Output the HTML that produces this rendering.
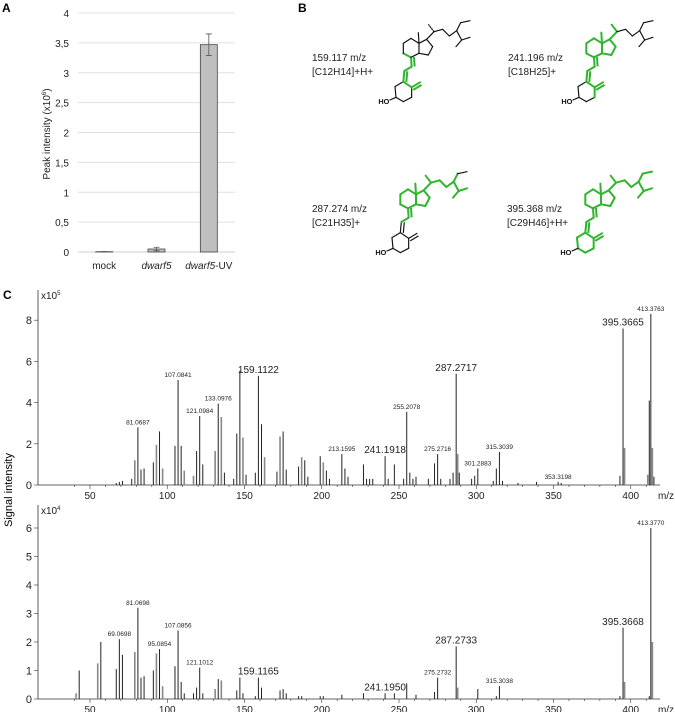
<!DOCTYPE html>
<html><head><meta charset="utf-8"><style>
body{margin:0;background:#fff;}
svg{display:block;font-family:"Liberation Sans",sans-serif;}
</style></head><body>
<svg id="fig" width="675" height="712" viewBox="0 0 675 712">
<text x="2" y="12" font-size="12" font-weight="bold">A</text>
<text x="298" y="12" font-size="12" font-weight="bold">B</text>
<text x="3" y="299" font-size="12" font-weight="bold">C</text>
<g id="barchart"></g>
<g id="structs">
<text x="312" y="61" font-size="10" fill="#222">159.117 m/z</text>
<text x="312" y="75" font-size="10" fill="#222">[C12H14]+H+</text>
<text x="508" y="61" font-size="10" fill="#222">241.196 m/z</text>
<text x="508" y="75" font-size="10" fill="#222">[C18H25]+</text>
<text x="312" y="212" font-size="10" fill="#222">287.274 m/z</text>
<text x="312" y="226" font-size="10" fill="#222">[C21H35]+</text>
<text x="507" y="212" font-size="10" fill="#222">395.368 m/z</text>
<text x="507" y="226" font-size="10" fill="#222">[C29H46]+H+</text>
</g>
<g id="spec1"></g>
<g id="spec2"></g>
<text transform="translate(12,490) rotate(-90)" text-anchor="middle" font-size="11">Signal intensity</text>
</svg>
<script>
const NS="http://www.w3.org/2000/svg";
function mk(p,t,a){const e=document.createElementNS(NS,t);for(const k in a)e.setAttribute(k,a[k]);p.appendChild(e);return e;}

// ---- Panel A data ----
const barCats=["mock","dwarf5","dwarf5-UV"];
const barVals=[0.005,0.05,3.47];
const barErr=[0.003,0.03,0.18];
const barTicks=["0","0,5","1","1,5","2","2,5","3","3,5","4"];

// ---- Spectrum 1 (x10^5) ----
const s1Mz=[67,69,71,77,79,81,83,85,91,93,95,97,105,107,109,111,117,119,121,123,131,133,135,137,143,145,147,149,151,157,159,161,163,171,173,175,177,185,187,189,191,199,201,203,205,213,215,217,227,229,231,233,241,243,247,253,255,257,259,261,269,273,275,277,283,285,287,288,289,297,299,301,311,313,315,317,327,339,353,355,393,395,396,411,412,413,414,415];
const s1Int=[0.1,0.15,0.2,0.3,1.2,2.8,0.75,0.8,1.1,1.95,2.6,0.8,1.9,5.1,1.9,0.7,0.45,1.65,3.35,1.0,1.65,3.95,3.3,0.6,0.3,2.5,5.55,2.3,0.5,0.6,5.3,2.95,1.35,0.65,2.35,2.6,0.75,0.9,1.35,1.2,0.4,1.4,1.1,0.7,0.3,1.5,0.8,0.4,1.0,0.3,0.3,0.3,1.4,0.3,1.0,0.3,3.55,0.6,0.3,0.4,0.3,1.05,1.5,0.3,0.3,0.6,5.4,1.5,0.6,0.3,0.45,0.8,0.2,0.8,1.6,0.2,0.1,0.15,0.15,0.1,0.45,7.6,1.8,0.5,4.1,8.3,1.8,0.4];
const s1Gray=[79,93,97,111,117,131,135,149,163,173,187,201,288,396,411,414];
const s1Labels=["81.0687","107.0841","121.0984","133.0976","159.1122","213.1595","241.1918","255.2078","275.2716","287.2717","301.2883","315.3039","353.3198","395.3665","413.3763"];
const s1LabelMz=[81,107,121,133,159,213,241,255,275,287,301,315,353,395,413];
const s1LabelBig=[0,0,0,0,1,0,1,0,0,1,0,0,0,1,0];
const s1Ticks=[0,2,4,6,8];

// ---- Spectrum 2 (x10^4) ----
const s2Mz=[41,43,55,57,67,69,71,79,81,83,85,91,93,95,97,105,107,109,111,117,119,121,123,131,133,135,145,147,149,157,159,161,173,175,177,185,187,199,201,213,227,241,247,255,261,273,275,287,288,301,313,315,393,395,396,412,413,414];
const s2Int=[0.2,1.0,1.25,2.0,1.05,2.1,1.55,1.65,3.2,0.75,0.8,1.0,1.6,1.75,0.45,1.15,2.4,0.6,0.2,0.2,0.4,1.1,0.2,0.35,0.7,0.65,0.3,0.75,0.2,0.1,0.75,0.4,0.3,0.35,0.2,0.1,0.1,0.1,0.1,0.15,0.2,0.2,0.2,0.55,0.15,0.25,0.75,1.85,0.4,0.35,0.1,0.45,0.1,2.5,0.6,0.1,6.0,2.0];
const s2Gray=[41,55,79,93,97,131,135,288,396,414];
const s2Labels=["69.0698","81.0698","95.0854","107.0856","121.1012","159.1165","241.1950","275.2732","287.2733","315.3038","395.3668","413.3770"];
const s2LabelMz=[69,81,95,107,121,159,241,275,287,315,395,413];
const s2LabelBig=[0,0,0,0,0,1,1,0,1,0,1,0];
const s2Ticks=[0,1,2,3,4,5,6];
const mzTicks=[50,100,150,200,250,300,350,400];

// ---- Panel A ----
(function(){
 const g=document.getElementById('barchart');
 const y=v=>252-v*59.75, x0=78,x1=235;
 barTicks.forEach((t,i)=>{const v=i*0.5;
  const l=mk(g,'line',{x1:x0,x2:x1,y1:y(v),y2:y(v),stroke:i?'#e0e0e0':'#ccc','stroke-width':1});
  
  const tx=mk(g,'text',{x:69,y:y(v)+4,'text-anchor':'end','font-size':10,fill:'#222'});tx.textContent=t;
  });
 const bw=(x1-x0)/3;
 barCats.forEach((c,i)=>{const cx=x0+bw*(i+0.5), w=17;
  const r=mk(g,'rect',{x:cx-w/2,y:y(barVals[i]),width:w,height:252-y(barVals[i]),fill:'#bfbfbf',stroke:'#444','stroke-width':0.8});
  
  const t=y(barVals[i]+barErr[i]),b=y(barVals[i]-barErr[i]);
  const e=mk(g,'path',{d:`M${cx},${t}V${b}M${cx-3},${t}H${cx+3}M${cx-3},${b}H${cx+3}`,stroke:'#555','stroke-width':0.8,fill:'none'});
  
  const lb=mk(g,'text',{x:cx,y:269,'text-anchor':'middle','font-size':10,fill:'#222'});
  if(c==='mock'){lb.textContent=c;}else{const s=mk(lb,'tspan',{'font-style':'italic'});s.textContent='dwarf5';if(c!=='dwarf5'){const s2=mk(lb,'tspan',{});s2.textContent='-UV';}}
  });
 const tt=mk(g,'text',{transform:'translate(50,134) rotate(-90)','text-anchor':'middle','font-size':10,fill:'#222'});
 
 tt.innerHTML='Peak intensity (x10<tspan font-size="6" dy="-4">6</tspan><tspan dy="4">)</tspan>';
})();

// ---- Structures ----
(function(){
 const g=document.getElementById('structs');
 const P={A1:[310,245],A2:[285,260],A3:[288,292],A4:[310,305],A5:[335,292],A6:[335,262],EX:[360,247],OH:[270,300],
  T1:[313,213],T2:[335,200],C1:[333,172],C2:[310,160],C3:[310,130],C4:[333,115],C5:[357,130],C6:[357,160],
  D1:[380,118],D2:[398,140],D3:[385,165],ME:[355,98],S1:[402,95],SM:[386,74],S2:[428,88],S3:[448,108],S4:[470,92],
  E1:[482,68],E2:[510,62],I1:[485,120],I2:[468,140],I3:[510,112]};
 const bonds=[["A1","A2"],["A2","A3"],["A3","A4"],["A4","A5"],["A5","A6"],["A6","A1"],["A6","EX",2],["A3","OH"],
  ["A1","T1",2],["T1","T2"],["T2","C1",2],["C1","C2"],["C2","C3"],["C3","C4"],["C4","C5"],["C5","C6"],["C6","C1"],
  ["C5","D1"],["D1","D2"],["D2","D3"],["D3","C6"],["C5","ME"],["D1","S1"],["S1","SM",3],["S1","S2"],["S2","S3"],["S3","S4"],
  ["S4","E1"],["E1","E2"],["S4","I1"],["I1","I2"],["I1","I3"]];
 const greens=[
  ["A1","A6","EX","T1","T2","C1","C2"],
  ["A1","A6","EX","T1","T2","C1","C2","C3","C4","C5","C6","D1","D2","D3","ME","S1","SM"],
  ["T1","T2","C1","C2","C3","C4","C5","C6","D1","D2","D3","ME","S1","SM","S2","S3","S4","E1","I1","I2","I3"],
  ["A1","A2","A3","A4","A5","A6","EX","T1","T2","C1","C2","C3","C4","C5","C6","D1","D2","D3","ME","S1","SM","S2","S3","S4","E1","E2","I1","I2","I3"]];
 const offs=[[300,0],[483,0],[297,151],[482,151]];
 offs.forEach((o,k)=>{
  const sg=mk(g,'g',{transform:`translate(${o[0]},${o[1]}) scale(0.3333)`});
  
  const gs=new Set(greens[k]);
  bonds.forEach(b=>{const p=P[b[0]],q=P[b[1]];
   const green=(gs.has(b[0])&&gs.has(b[1]))||(k===1&&b[0]==='A5'&&b[1]==='A6');
   const col=green?'#2fb52f':'#111', sw=green?6:3.5;
   const l=mk(sg,'line',{x1:p[0],y1:p[1],x2:q[0],y2:q[1],stroke:col,'stroke-width':sw,'stroke-linecap':'round','stroke-dasharray':b[2]===3?'4 4':'none'});
   if(b[2]===2){const dx=q[0]-p[0],dy=q[1]-p[1],L=Math.hypot(dx,dy),nx=-dy/L*9,ny=dx/L*9;
    mk(sg,'line',{x1:p[0]+nx,y1:p[1]+ny,x2:q[0]+nx,y2:q[1]+ny,stroke:col,'stroke-width':sw});}
  });
  const ho=mk(sg,'text',{x:235,y:312,'font-size':22,'font-weight':'bold',fill:'#111'});ho.textContent='HO';
 });
})();

// ---- Spectra ----
function spectrum(id,mzs,ints,grays,labels,lmz,lbig,ticks,y0,unit,yTop,exp){
 const g=document.getElementById(id);
 const X=m=>90+(m-50)*1.545, Y=v=>y0-v*unit;
 mk(g,'line',{x1:38,x2:38,y1:yTop,y2:y0,stroke:'#333','stroke-width':0.8});
 mk(g,'line',{x1:38,x2:660,y1:y0,y2:y0,stroke:'#333','stroke-width':0.8});
 for(let m=40;m<=415;m+=10){mk(g,'line',{x1:X(m),x2:X(m),y1:y0,y2:y0+(m%50?2:4),stroke:'#333','stroke-width':0.6});}
 mzTicks.forEach(m=>{const t=mk(g,'text',{x:X(m),y:y0+14,'text-anchor':'middle','font-size':10,fill:'#222'});t.textContent=m;
  });
 const mt=mk(g,'text',{x:666,y:y0+14,'text-anchor':'middle','font-size':10,fill:'#222'});mt.textContent='m/z';
 ticks.forEach(v=>{mk(g,'line',{x1:34,x2:38,y1:Y(v),y2:Y(v),stroke:'#333','stroke-width':0.6});
  const t=mk(g,'text',{x:32,y:Y(v)+4,'text-anchor':'end','font-size':11,fill:'#222'});t.textContent=v;
  });
 const ex=mk(g,'text',{x:41,y:yTop+9,'font-size':10,fill:'#222'});ex.innerHTML='x10<tspan font-size="6" dy="-4">'+exp+'</tspan>';
 
 mzs.forEach((m,i)=>{const gray=grays.includes(m);
  const l=mk(g,'line',{x1:X(m),x2:X(m),y1:y0,y2:Y(ints[i]),stroke:gray?'#888':'#222','stroke-width':gray?1.6:1});
  });
 labels.forEach((s,i)=>{const m=lmz[i],k=mzs.indexOf(m),big=lbig[i];
  const t=mk(g,'text',{x:X(m),y:Y(ints[k])-3,'text-anchor':'middle','font-size':big?10:6.5,fill:'#222'});t.textContent=s;
  });
}
spectrum('spec1',s1Mz,s1Int,s1Gray,s1Labels,s1LabelMz,s1LabelBig,s1Ticks,485,20.6,290,'5');
spectrum('spec2',s2Mz,s2Int,s2Gray,s2Labels,s2LabelMz,s2LabelBig,s2Ticks,699,28.5,505,'4');
</script>
</body></html>
